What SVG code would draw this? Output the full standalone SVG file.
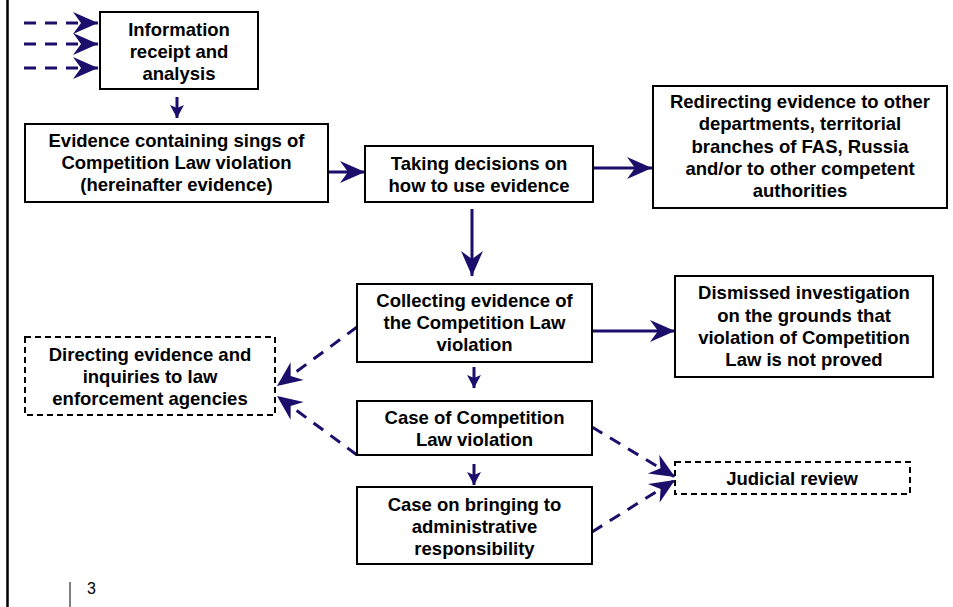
<svg xmlns="http://www.w3.org/2000/svg" width="953" height="607" viewBox="0 0 953 607">
<style>
  .box{fill:#fff;stroke:#000;stroke-width:2}
  .dbox{fill:#fff;stroke:#000;stroke-width:2;stroke-dasharray:6,4}
  .t{font-family:"Liberation Sans",Arial,sans-serif;font-weight:bold;font-size:18.5px;fill:#000;text-anchor:middle}
  .c{fill:none;stroke:#1c0e6b;stroke-width:3}
  .d{fill:none;stroke:#1c0e6b;stroke-width:3;stroke-dasharray:12,9}
</style>
<defs>
  <marker id="big" markerUnits="userSpaceOnUse" viewBox="-26 -13 28 26" refX="0" refY="0" markerWidth="28" markerHeight="26" orient="auto">
    <path d="M0,0 L-25,-11 L-17,0 L-25,11 Z" fill="#1c0e6b"/>
  </marker>
  <marker id="sm" markerUnits="userSpaceOnUse" viewBox="-14 -8 15 16" refX="0" refY="0" markerWidth="15" markerHeight="16" orient="auto">
    <path d="M0,0 L-13,-7 L-10,0 L-13,7 Z" fill="#1c0e6b"/>
  </marker>
</defs>
<rect width="953" height="607" fill="#fff"/>
<line x1="7.5" y1="0" x2="7.5" y2="607" stroke="#000" stroke-width="2.5"/>
<line x1="70" y1="582" x2="70" y2="607" stroke="#000" stroke-width="1"/>
<text x="87" y="594" font-family="Liberation Sans,Arial,sans-serif" font-size="16" fill="#000">3</text>

<g id="connectors">
  <line class="d" x1="24" y1="23" x2="98" y2="23" marker-end="url(#big)"/>
  <line class="d" x1="24" y1="44" x2="98" y2="44" marker-end="url(#big)"/>
  <line class="d" x1="24" y1="68" x2="98" y2="68" marker-end="url(#big)"/>
  <line class="c" x1="177" y1="97" x2="177" y2="118" marker-end="url(#sm)"/>
  <line class="c" x1="328" y1="172" x2="365" y2="172" marker-end="url(#big)"/>
  <line class="c" x1="593" y1="168" x2="652" y2="168" marker-end="url(#big)"/>
  <line class="c" x1="472" y1="209" x2="472" y2="276" marker-end="url(#big)"/>
  <line class="c" x1="592" y1="331" x2="675" y2="331" marker-end="url(#big)"/>
  <line class="c" x1="474" y1="367" x2="474" y2="388" marker-end="url(#sm)"/>
  <line class="c" x1="474" y1="464" x2="474" y2="485" marker-end="url(#sm)"/>
  <line class="d" x1="357" y1="327" x2="277" y2="386" marker-end="url(#big)"/>
  <line class="d" x1="357" y1="455" x2="277" y2="396" marker-end="url(#big)"/>
  <line class="d" x1="592" y1="427" x2="675" y2="477" marker-end="url(#big)"/>
  <line class="d" x1="592" y1="532" x2="675" y2="480" marker-end="url(#big)"/>
</g>

<g id="n1">
  <rect class="box" x="100" y="12" width="158" height="77"/>
  <text class="t" x="179" y="36">Information</text>
  <text class="t" x="179" y="58">receipt and</text>
  <text class="t" x="179" y="80">analysis</text>
</g>
<g id="n2">
  <rect class="box" x="25" y="124" width="303" height="78"/>
  <text class="t" x="176.5" y="147">Evidence containing sings of</text>
  <text class="t" x="176.5" y="169">Competition Law violation</text>
  <text class="t" x="176.5" y="191">(hereinafter evidence)</text>
</g>
<g id="n3">
  <rect class="box" x="365" y="146" width="228" height="56"/>
  <text class="t" x="479" y="170">Taking decisions on</text>
  <text class="t" x="479" y="192">how to use evidence</text>
</g>
<g id="n4">
  <rect class="box" x="653" y="86" width="294" height="122"/>
  <text class="t" x="800" y="108">Redirecting evidence to other</text>
  <text class="t" x="800" y="130">departments, territorial</text>
  <text class="t" x="800" y="153">branches of FAS, Russia</text>
  <text class="t" x="800" y="175">and/or to other competent</text>
  <text class="t" x="800" y="197">authorities</text>
</g>
<g id="n5">
  <rect class="box" x="357" y="284" width="235" height="78"/>
  <text class="t" x="474.5" y="307">Collecting evidence of</text>
  <text class="t" x="474.5" y="329">the Competition Law</text>
  <text class="t" x="474.5" y="351">violation</text>
</g>
<g id="n6">
  <rect class="box" x="357" y="401" width="235" height="54"/>
  <text class="t" x="474.5" y="424">Case of Competition</text>
  <text class="t" x="474.5" y="446">Law violation</text>
</g>
<g id="n7">
  <rect class="box" x="357" y="487" width="235" height="77"/>
  <text class="t" x="474.5" y="511">Case on bringing to</text>
  <text class="t" x="474.5" y="533">administrative</text>
  <text class="t" x="474.5" y="555">responsibility</text>
</g>
<g id="n8">
  <rect class="box" x="675" y="276" width="258" height="101"/>
  <text class="t" x="804" y="299">Dismissed investigation</text>
  <text class="t" x="804" y="322">on the grounds that</text>
  <text class="t" x="804" y="344">violation of Competition</text>
  <text class="t" x="804" y="366">Law is not proved</text>
</g>
<g id="n9">
  <rect class="dbox" x="25" y="337" width="250" height="78"/>
  <text class="t" x="150" y="361">Directing evidence and</text>
  <text class="t" x="150" y="383">inquiries to law</text>
  <text class="t" x="150" y="405">enforcement agencies</text>
</g>
<g id="n10">
  <rect class="dbox" x="675" y="462" width="235" height="32"/>
  <text class="t" x="792" y="485">Judicial review</text>
</g>
</svg>
